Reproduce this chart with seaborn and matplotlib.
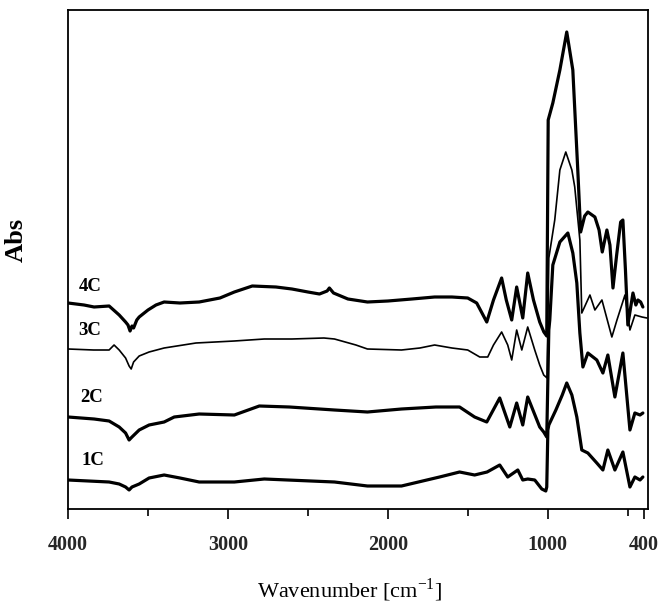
import numpy as np
import pandas as pd
import matplotlib
matplotlib.use("Agg")
import matplotlib.pyplot as plt
import seaborn as sns
from matplotlib.ticker import FixedLocator

# ---------------- data (arbitrary absorbance units) ----------------
wn_4c = [4000, 3900, 3837, 3743, 3680, 3640, 3625, 3612, 3600, 3590, 3570, 3555, 3500, 3450,
         3399, 3300, 3180, 3050, 2960, 2848, 2700, 2600, 2500, 2428, 2380, 2366, 2340, 2250,
         2128, 2000, 1850, 1708, 1600, 1501, 1445, 1382, 1340, 1289, 1260, 1226, 1195, 1157,
         1126, 1090, 1051, 1025, 1007, 998, 969, 925, 882, 844, 813, 795, 770, 750, 706, 680,
         660, 631, 612, 593, 570, 545, 531, 515, 500, 480, 468, 450, 437, 420, 406]
abs_4c = [2.06, 2.04, 2.02, 2.03, 1.94, 1.87, 1.84, 1.78, 1.83, 1.81, 1.89, 1.92, 1.99, 2.04,
          2.07, 2.06, 2.07, 2.11, 2.17, 2.23, 2.22, 2.20, 2.17, 2.15, 2.18, 2.21, 2.16, 2.10,
          2.07, 2.08, 2.10, 2.12, 2.12, 2.11, 2.06, 1.87, 2.09, 2.31, 2.09, 1.89, 2.22, 1.91,
          2.36, 2.09, 1.87, 1.77, 1.73, 3.89, 4.06, 4.39, 4.77, 4.39, 3.39, 2.77, 2.93, 2.97,
          2.92, 2.79, 2.57, 2.79, 2.64, 2.21, 2.54, 2.87, 2.89, 2.39, 1.84, 2.04, 2.16, 2.04,
          2.09, 2.07, 2.02]

wn_3c = [4000, 3840, 3743, 3712, 3680, 3640, 3618, 3605, 3590, 3555, 3493, 3399, 3200, 2960,
         2773, 2600, 2400, 2334, 2200, 2128, 1915, 1800, 1708, 1600, 1501, 1426, 1376, 1340,
         1289, 1251, 1226, 1195, 1163, 1126, 1082, 1051, 1026, 1005, 994, 957, 925, 888, 850,
         832, 800, 788, 737, 706, 662, 600, 568, 518, 487, 456, 412, 381]
abs_3c = [1.60, 1.59, 1.59, 1.64, 1.59, 1.51, 1.43, 1.40, 1.47, 1.53, 1.57, 1.61, 1.66, 1.68,
          1.70, 1.70, 1.71, 1.70, 1.64, 1.60, 1.59, 1.61, 1.64, 1.61, 1.59, 1.52, 1.52, 1.64,
          1.77, 1.64, 1.49, 1.79, 1.59, 1.82, 1.59, 1.44, 1.34, 1.31, 2.51, 2.89, 3.39, 3.57,
          3.39, 3.22, 2.69, 1.96, 2.14, 1.99, 2.09, 1.72, 1.89, 2.14, 1.79, 1.94, 1.92, 1.91]

wn_2c = [4000, 3837, 3743, 3680, 3640, 3618, 3600, 3555, 3493, 3399, 3336, 3180, 2960, 2804,
         2616, 2334, 2128, 1915, 1700, 1552, 1458, 1382, 1301, 1238, 1195, 1157, 1126, 1051,
         1026, 1007, 994, 988, 969, 925, 875, 844, 819, 800, 781, 750, 694, 656, 625, 581,
         531, 487, 456, 424, 406]
abs_2c = [0.92, 0.90, 0.88, 0.82, 0.76, 0.69, 0.72, 0.79, 0.84, 0.87, 0.92, 0.95, 0.94, 1.03,
          1.02, 0.99, 0.97, 1.00, 1.02, 1.02, 0.92, 0.87, 1.11, 0.82, 1.06, 0.84, 1.12, 0.82,
          0.77, 0.72, 1.79, 1.89, 2.44, 2.67, 2.76, 2.56, 2.26, 1.76, 1.42, 1.56, 1.49, 1.36,
          1.54, 1.12, 1.56, 0.79, 0.96, 0.94, 0.96]

wn_1c = [4000, 3743, 3680, 3640, 3618, 3600, 3555, 3493, 3399, 3300, 3180, 2960, 2773, 2334,
         2128, 1915, 1677, 1552, 1458, 1380, 1301, 1251, 1188, 1157, 1126, 1082, 1038, 1013,
         1007, 1000, 994, 950, 910, 882, 850, 819, 788, 750, 694, 656, 625, 581, 531, 487,
         456, 424, 406]
abs_1c = [0.29, 0.27, 0.25, 0.22, 0.19, 0.22, 0.25, 0.31, 0.34, 0.31, 0.27, 0.27, 0.30, 0.27,
          0.23, 0.23, 0.32, 0.37, 0.34, 0.37, 0.44, 0.32, 0.39, 0.29, 0.30, 0.29, 0.20, 0.18,
          0.22, 0.79, 0.84, 0.99, 1.14, 1.26, 1.14, 0.92, 0.59, 0.56, 0.46, 0.39, 0.59, 0.39,
          0.57, 0.22, 0.32, 0.29, 0.32]

sample_names = ["4C", "3C", "2C", "1C"]
major_ticks = [4000, 3000, 2000, 1000, 400]
major_labels = ["4000", "3000", "2000", "1000", "400"]
minor_ticks = [3500, 2500, 1500, 500]

# ---------------- figure ----------------
sns.set_theme(style="white")
plt.rcParams["font.family"] = ["Liberation Serif", "DejaVu Serif"]

fig = plt.figure(figsize=(6.69, 6.14), dpi=100)
ax = fig.add_axes([68 / 669, 1 - 509 / 614, 580 / 669, 499 / 614])

series = [(wn_4c, abs_4c, 2.3), (wn_3c, abs_3c, 1.2), (wn_2c, abs_2c, 2.3), (wn_1c, abs_1c, 2.3)]
for name, (wn, ab, lw) in zip(sample_names, series):
    df = pd.DataFrame({"wn": wn, "abs": ab})
    sns.lineplot(data=df, x="wn", y="abs", ax=ax, color="black", linewidth=lw,
                 estimator=None, sort=True, legend=False)

ax.set_xlim(4000, 374)
ax.set_ylim(0, 4.99)
ax.set_yticks([])

ax.xaxis.set_major_locator(FixedLocator(major_ticks))
ax.set_xticklabels(major_labels)
ax.xaxis.set_minor_locator(FixedLocator(minor_ticks))
ax.tick_params(axis="x", which="major", direction="out", length=7, width=1.2,
               color="black", pad=12, labelsize=14.5, bottom=True)
ax.tick_params(axis="x", which="minor", direction="out", length=5, width=1.2,
               color="black", bottom=True)
for lab in ax.get_xticklabels():
    lab.set_fontweight("bold")

for sp in ax.spines.values():
    sp.set_visible(True)
    sp.set_color("black")
    sp.set_linewidth(1.3)

ax.set_xlabel("Wavenumber [cm$^{\\mathregular{-1}}$]", fontsize=16, color="black")
ax.xaxis.set_label_coords(0.485, -0.135)
ax.set_ylabel("Abs", fontsize=19, fontweight="bold", color="black")
ax.yaxis.set_label_coords(-0.069, 0.54)

label_pos = {"4C": (0.038, 0.445), "3C": (0.038, 0.357), "2C": (0.040, 0.224), "1C": (0.043, 0.098)}
for name in sample_names:
    px, py = label_pos[name]
    ax.text(px, py, name, transform=ax.transAxes, fontsize=13.5, fontweight="bold",
            color="black", ha="center", va="center")

fig.savefig("out.png", dpi=100, facecolor="white")
